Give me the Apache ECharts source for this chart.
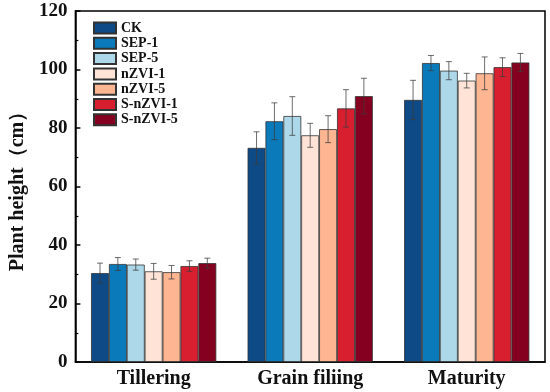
<!DOCTYPE html>
<html><head><meta charset="utf-8">
<script src="https://cdn.jsdelivr.net/npm/echarts@6/dist/echarts.min.js"></script>
<style>html,body{margin:0;padding:0;background:#fff}#c{width:550px;height:392px}</style>
</head><body><div id="c"></div>
<script>
var categories = ['Tillering', 'Grain filiing', 'Maturity'];
var seriesNames = ['CK', 'SEP-1', 'SEP-5', 'nZVI-1', 'nZVI-5', 'S-nZVI-1', 'S-nZVI-5'];
var colors = ['#0d4a86', '#0a7abb', '#acd8ea', '#fee3d6', '#fdb592', '#d81f30', '#850020'];
var CK = [30.4, 73.2, 89.6];
var SEP1 = [33.5, 82.3, 102.2];
var SEP5 = [33.3, 84.1, 99.6];
var nZVI1 = [31.0, 77.5, 96.2];
var nZVI5 = [30.7, 79.6, 98.7];
var SnZVI1 = [32.8, 86.7, 100.8];
var SnZVI5 = [33.8, 90.9, 102.4];
var CK_sd = [3.4, 5.5, 6.7];
var SEP1_sd = [2.2, 6.3, 2.6];
var SEP5_sd = [1.9, 6.6, 3.1];
var nZVI1_sd = [2.7, 4.1, 2.5];
var nZVI5_sd = [2.3, 4.6, 5.6];
var SnZVI1_sd = [1.8, 6.4, 3.2];
var SnZVI5_sd = [1.7, 6.1, 3.1];
var yTicks = [0, 20, 40, 60, 80, 100, 120];

var values = [CK, SEP1, SEP5, nZVI1, nZVI5, SnZVI1, SnZVI5];
var sds = [CK_sd, SEP1_sd, SEP5_sd, nZVI1_sd, nZVI5_sd, SnZVI1_sd, SnZVI5_sd];
var FONT = '"Liberation Serif", "Times New Roman", serif';
var N = seriesNames.length;
var GROUP = 0.8;

var series = [];
seriesNames.forEach(function (name, i) {
  series.push({
    name: name, type: 'bar', data: values[i], barGap: '0%', barCategoryGap: '20%',
    itemStyle: { color: colors[i], borderColor: '#333', borderWidth: 0.8 }
  });
});
seriesNames.forEach(function (name, i) {
  series.push({
    type: 'custom', name: name + ' err', silent: true, z: 10,
    data: categories.map(function (c, k) { return [k, values[i][k], sds[i][k]]; }),
    renderItem: function (params, api) {
      var k = api.value(0), v = api.value(1), sd = api.value(2);
      var band = api.size([1, 0])[0];
      var bw = band * GROUP / N;
      var center = api.coord([k, v])[0] + (i - (N - 1) / 2) * bw;
      var top = api.coord([k, v + sd])[1];
      var bot = api.coord([k, v - sd])[1];
      var cap = 3;
      var st = { stroke: 'rgba(60,60,60,0.75)', lineWidth: 1 };
      return { type: 'group', children: [
        { type: 'line', shape: { x1: center, y1: top, x2: center, y2: bot }, style: st },
        { type: 'line', shape: { x1: center - cap, y1: top, x2: center + cap, y2: top }, style: st },
        { type: 'line', shape: { x1: center - cap, y1: bot, x2: center + cap, y2: bot }, style: st }
      ] };
    }
  });
});

var chart = echarts.init(document.getElementById('c'));
chart.setOption({
  animation: false,
  textStyle: { fontFamily: FONT },
  grid: { left: 63, right: 5, top: 11, bottom: 30, show: true, borderColor: '#000', borderWidth: 1.5, containLabel: false },
  legend: {
    data: seriesNames, orient: 'vertical', left: 88, top: 16, padding: 5,
    icon: 'rect', itemWidth: 22, itemHeight: 11, itemGap: 1.3,
    textStyle: { fontFamily: FONT, fontWeight: 'bold', fontSize: 14, color: '#111' }
  },
  xAxis: {
    type: 'category', data: categories,
    axisLine: { lineStyle: { color: '#000', width: 1.5 } },
    axisTick: { show: false },
    axisLabel: { fontFamily: FONT, fontWeight: 'bold', fontSize: 20, color: '#111', margin: 7 }
  },
  yAxis: {
    type: 'value', min: 0, max: 120, interval: 20,
    name: 'Plant height（cm）', nameLocation: 'middle', nameGap: 38,
    nameTextStyle: { fontFamily: FONT, fontWeight: 'bold', fontSize: 20, color: '#111' },
    axisLine: { show: true, lineStyle: { color: '#000', width: 1.5 } },
    axisTick: { show: true, inside: true, length: 5, lineStyle: { color: '#000', width: 1.5 } },
    minorTick: { show: true, splitNumber: 2, length: 3, lineStyle: { color: '#000', width: 1.2 } },
    splitLine: { show: false },
    axisLabel: { fontFamily: FONT, fontWeight: 'bold', fontSize: 19, color: '#111', margin: 8,
      formatter: function (v) { return yTicks.indexOf(v) >= 0 ? String(v) : ''; } }
  },
  series: series
});
</script></body></html>
